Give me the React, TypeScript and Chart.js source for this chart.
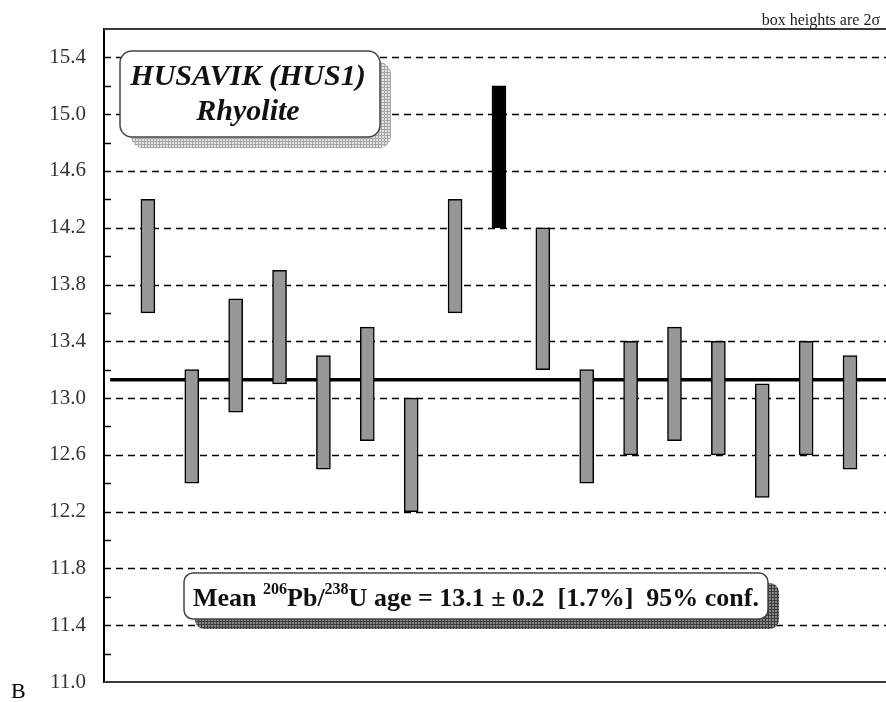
import React, { useEffect, useRef } from "react";
import { Chart, registerables } from "chart.js";

Chart.register(...registerables);

// ---- Data ----
const grainIndex = [1, 2, 3, 4, 5, 6, 7, 8, 9, 10, 11, 12, 13, 14, 15, 16, 17];
const lowerAge = [13.6, 12.4, 12.9, 13.1, 12.5, 12.7, 12.2, 13.6, 14.2, 13.2, 12.4, 12.6, 12.7, 12.6, 12.3, 12.6, 12.5];
const upperAge = [14.4, 13.2, 13.7, 13.9, 13.3, 13.5, 13.0, 14.4, 15.2, 14.2, 13.2, 13.4, 13.5, 13.4, 13.1, 13.4, 13.3];
const rejected = [false, false, false, false, false, false, false, false, true, false, false, false, false, false, false, false, false];
const meanAge = 13.13;
const meanLineX = [0.14, 17.82];
const yMajorTicks = [11.0, 11.4, 11.8, 12.2, 12.6, 13.0, 13.4, 13.8, 14.2, 14.6, 15.0, 15.4];
const yMinorTicks = [11.2, 11.6, 12.0, 12.4, 12.8, 13.2, 13.6, 14.0, 14.4, 14.8, 15.2];
const xRange = [0, 17.82];
const yRange = [11.0, 15.6];

const titleLines = ["HUSAVIK (HUS1)", "Rhyolite"];
const noteText = "box heights are 2\u03c3";
const panelLetter = "B";
const meanSegments: { t: string; sup?: boolean }[] = [
  { t: "Mean " },
  { t: "206", sup: true },
  { t: "Pb/" },
  { t: "238", sup: true },
  { t: "U age = 13.1 \u00b1 0.2  [1.7%]  95% conf." },
];

const SERIF = '"Liberation Serif", "Times New Roman", serif';

function makePattern(ctx: CanvasRenderingContext2D, bg: string, line: string) {
  const c = document.createElement("canvas");
  c.width = 3;
  c.height = 3;
  const p = c.getContext("2d")!;
  p.fillStyle = bg;
  p.fillRect(0, 0, 3, 3);
  p.fillStyle = line;
  p.fillRect(0, 0, 3, 1);
  p.fillRect(0, 0, 1, 3);
  return ctx.createPattern(c, "repeat")!;
}

const gridPlugin = {
  id: "customGrid",
  beforeDatasetsDraw(chart: any) {
    const { ctx, chartArea, scales } = chart;
    const { left, right } = chartArea;
    const y = scales.y;
    ctx.save();
    // dashed major lines
    ctx.strokeStyle = "#000";
    ctx.lineWidth = 1.3;
    ctx.setLineDash([7, 5]);
    yMajorTicks.forEach((v) => {
      if (v <= yRange[0]) return;
      const py = Math.round(y.getPixelForValue(v)) + 0.5;
      ctx.beginPath();
      ctx.moveTo(left, py);
      ctx.lineTo(right, py);
      ctx.stroke();
    });
    // minor ticks inside the axis
    ctx.setLineDash([]);
    ctx.lineWidth = 1.5;
    yMinorTicks.forEach((v) => {
      const py = Math.round(y.getPixelForValue(v)) + 0.5;
      ctx.beginPath();
      ctx.moveTo(left, py);
      ctx.lineTo(left + 7, py);
      ctx.stroke();
    });
    // top and bottom frame
    ctx.strokeStyle = "#3a3a3a";
    ctx.lineWidth = 2;
    [yRange[0], yRange[1]].forEach((v) => {
      const py = Math.round(y.getPixelForValue(v));
      ctx.beginPath();
      ctx.moveTo(left, py);
      ctx.lineTo(right, py);
      ctx.stroke();
    });
    ctx.restore();
  },
  afterDraw(chart: any) {
    const { ctx } = chart;
    ctx.save();
    // note top-right
    ctx.fillStyle = "#222";
    ctx.font = `16px ${SERIF}`;
    ctx.textAlign = "right";
    ctx.textBaseline = "alphabetic";
    ctx.fillText(noteText, 880, 25);

    // panel letter
    ctx.textAlign = "left";
    ctx.fillStyle = "#000";
    ctx.font = `22px ${SERIF}`;
    ctx.fillText(panelLetter, 11, 698);

    // Title box
    const tb = { x: 120, y: 51, w: 260, h: 86, r: 12 };
    ctx.fillStyle = makePattern(ctx, "#e2e2e2", "#a8a8a8");
    ctx.beginPath();
    ctx.roundRect(tb.x + 11, tb.y + 11, tb.w, tb.h, tb.r);
    ctx.fill();
    ctx.fillStyle = "#fff";
    ctx.strokeStyle = "#444";
    ctx.lineWidth = 1.5;
    ctx.beginPath();
    ctx.roundRect(tb.x, tb.y, tb.w, tb.h, tb.r);
    ctx.fill();
    ctx.stroke();
    ctx.fillStyle = "#111";
    ctx.textAlign = "center";
    ctx.font = `italic bold 30px ${SERIF}`;
    ctx.fillText(titleLines[0], 248, 85);
    ctx.fillText(titleLines[1], 248, 120);

    // Mean box
    const mb = { x: 184, y: 573, w: 584, h: 46, r: 9 };
    ctx.fillStyle = makePattern(ctx, "#8a8a8a", "#3c3c3c");
    ctx.beginPath();
    ctx.roundRect(mb.x + 11, mb.y + 10, mb.w, mb.h, mb.r);
    ctx.fill();
    ctx.fillStyle = "#fff";
    ctx.strokeStyle = "#444";
    ctx.lineWidth = 1.5;
    ctx.beginPath();
    ctx.roundRect(mb.x, mb.y, mb.w, mb.h, mb.r);
    ctx.fill();
    ctx.stroke();

    const mainFont = `bold 26px ${SERIF}`;
    const supFont = `bold 16px ${SERIF}`;
    let total = 0;
    meanSegments.forEach((s) => {
      ctx.font = s.sup ? supFont : mainFont;
      total += ctx.measureText(s.t).width;
    });
    let cx = mb.x + mb.w / 2 - total / 2;
    const base = 606;
    ctx.textAlign = "left";
    ctx.fillStyle = "#111";
    meanSegments.forEach((s) => {
      ctx.font = s.sup ? supFont : mainFont;
      ctx.fillText(s.t, cx, s.sup ? base - 12 : base);
      cx += ctx.measureText(s.t).width;
    });
    ctx.restore();
  },
};

export default function App() {
  const ref = useRef<HTMLCanvasElement | null>(null);

  useEffect(() => {
    document.body.style.margin = "0";
    const canvas = ref.current!;
    const boxData = grainIndex.map((x, i) => ({ x, y: [lowerAge[i], upperAge[i]] }));
    const chart = new Chart(canvas, {
      type: "bar",
      data: {
        datasets: [
          {
            type: "line",
            data: meanLineX.map((x) => ({ x, y: meanAge })),
            borderColor: "#000",
            borderWidth: 3.5,
            pointRadius: 0,
            order: 2,
          } as any,
          {
            type: "bar",
            data: boxData as any,
            backgroundColor: rejected.map((r) => (r ? "#000" : "#979797")),
            borderColor: "#000",
            borderWidth: 1.5,
            borderSkipped: false,
            barThickness: 14,
            order: 1,
          } as any,
        ],
      },
      options: {
        responsive: false,
        devicePixelRatio: 1,
        animation: false,
        layout: { padding: { top: 29, bottom: 20, left: 0, right: 0 } },
        plugins: {
          legend: { display: false },
          tooltip: { enabled: false },
          title: { display: false },
        },
        scales: {
          x: {
            type: "linear",
            min: xRange[0],
            max: xRange[1],
            offset: false,
            display: false,
          },
          y: {
            type: "linear",
            min: yRange[0],
            max: yRange[1],
            afterFit: (s: any) => {
              s.width = 104;
            },
            afterBuildTicks: (s: any) => {
              s.ticks = yMajorTicks.map((v) => ({ value: v }));
            },
            grid: { display: false },
            border: { display: true, color: "#000", width: 2 },
            ticks: {
              padding: 10,
              color: "#333",
              font: { family: SERIF, size: 21, lineHeight: 0.9 },
              callback: (v: any) => Number(v).toFixed(1),
            },
          },
        },
      },
      plugins: [gridPlugin],
    });
    return () => chart.destroy();
  }, []);

  return (
    <div style={{ position: "absolute", left: 0, top: 0, width: 886, height: 702 }}>
      <canvas ref={ref} width={886} height={702} style={{ display: "block", width: 886, height: 702 }} />
    </div>
  );
}
